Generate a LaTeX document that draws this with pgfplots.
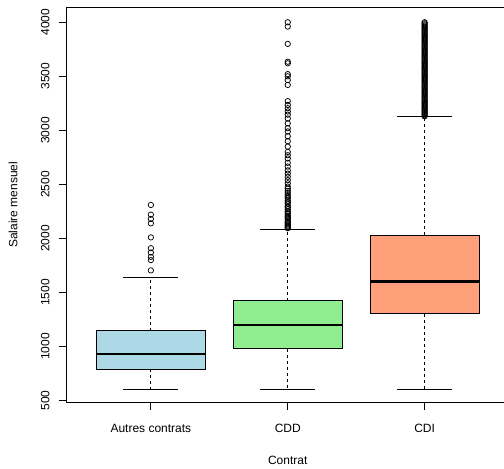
\documentclass[border=0pt]{standalone}
\usepackage{fontspec}
\setmainfont{Liberation Sans}
\usepackage{pgfplots}
\pgfplotsset{compat=1.18}
\usepgfplotslibrary{statistics}

\definecolor{boxblue}{HTML}{ADD8E6}
\definecolor{boxgreen}{HTML}{90EE90}
\definecolor{boxsalmon}{HTML}{FFA07A}

\newcommand{\lbl}{\fontsize{12bp}{14bp}\selectfont}

% whiskers: dashed stem, solid cap
\pgfplotsset{
  boxplot/draw/lower whisker/.code={%
    \draw[black, line width=0.75bp, dash pattern=on 3bp off 3bp]
      (boxplot box cs:\pgfplotsboxplotvalue{lower quartile},0.5)
      -- (boxplot box cs:\pgfplotsboxplotvalue{lower whisker},0.5);
    \draw[black, line width=0.75bp, solid]
      (boxplot whisker cs:\pgfplotsboxplotvalue{lower whisker},0)
      -- (boxplot whisker cs:\pgfplotsboxplotvalue{lower whisker},1);
  },
  boxplot/draw/upper whisker/.code={%
    \draw[black, line width=0.75bp, dash pattern=on 3bp off 3bp]
      (boxplot box cs:\pgfplotsboxplotvalue{upper quartile},0.5)
      -- (boxplot box cs:\pgfplotsboxplotvalue{upper whisker},0.5);
    \draw[black, line width=0.75bp, solid]
      (boxplot whisker cs:\pgfplotsboxplotvalue{upper whisker},0)
      -- (boxplot whisker cs:\pgfplotsboxplotvalue{upper whisker},1);
  },
  rbox/.style={
    draw=black, solid,
    boxplot/draw direction=y,
    boxplot/box extend=0.8,
    boxplot/whisker extend=0.4,
    boxplot/every box/.style={draw=black, fill=#1, line width=0.75bp},
    boxplot/every median/.style={draw=black, line width=2.25bp},
    mark=o, mark size=2.7bp,
    mark options={draw=black, line width=0.75bp, solid, fill=none},
  },
}

% outliers per contract type
\pgfplotstableread{
y
2310
2220
2180
2140
2010
1910
1870
1830
1800
1705
}\outautres

\pgfplotstableread{
y
4000
3960
3800
3635
3620
3520
3500
3465
3420
3270
3235
3205
3175
3145
3110
3065
3020
2990
2945
2900
2850
2800
2770
2740
2700
2665
2630
2600
2570
2540
2510
2480
2460
2440
2420
2400
2385
2370
2350
2335
2320
2300
2285
2270
2250
2240
2225
2210
2200
2190
2175
2160
2150
2140
2130
2120
2110
2100
2095
}\outcdd

\pgfplotstableread{
y
3130
3140
3150
3160
3170
3180
3190
3200
3210
3220
3230
3240
3250
3260
3270
3280
3290
3300
3310
3320
3330
3340
3350
3360
3370
3380
3390
3400
3410
3420
3430
3440
3450
3460
3470
3480
3490
3500
3510
3520
3530
3540
3550
3560
3570
3580
3590
3600
3610
3620
3630
3640
3650
3660
3670
3680
3690
3700
3710
3720
3730
3740
3750
3760
3770
3780
3790
3800
3810
3820
3830
3840
3850
3860
3870
3880
3890
3900
3910
3920
3930
3940
3950
3960
3970
3980
3990
4000
}\outcdi

\begin{document}
\begin{tikzpicture}
\path[use as bounding box] (0bp,0bp) rectangle (504bp,-469bp);
\clip (0bp,0bp) rectangle (504bp,-469bp);
\begin{axis}[
  at={(66bp,-7bp)}, anchor=north west,
  scale only axis, width=443.5bp, height=395.7bp,
  xmin=0.38, xmax=3.62, ymin=481, ymax=4141,
  xtick={1,2,3},
  xticklabels={Autres contrats, CDD, CDI},
  ytick={500,1000,...,4000},
  /pgf/number format/1000 sep={},
  /pgf/number format/assume math mode=true,
  tick pos=left, tick align=outside,
  major tick length=7.2bp,
  tick style={black, line width=0.75bp},
  axis line style={black, line width=0.75bp},
  tick label style={font=\lbl, inner sep=0pt},
  xticklabel style={anchor=base},
  yticklabel style={rotate=90, anchor=base},
  xticklabel shift=22.8bp,
  yticklabel shift=9.5bp,
  xlabel={Contrat},
  ylabel={Salaire mensuel},
  label style={font=\lbl, inner sep=0pt},
  xlabel style={at={([yshift=-61.3bp]axis description cs:0.5,0)}, anchor=base},
  ylabel style={at={([xshift=-48.7bp]axis description cs:0,0.5)}, anchor=base, rotate=0},
]
\addplot[rbox=boxblue, boxplot prepared={draw position=1,
  lower whisker=600, lower quartile=790, median=932,
  upper quartile=1147, upper whisker=1638}]
  table[y=y] {\outautres};
\addplot[rbox=boxgreen, boxplot prepared={draw position=2,
  lower whisker=600, lower quartile=981, median=1203,
  upper quartile=1425, upper whisker=2085}]
  table[y=y] {\outcdd};
\addplot[rbox=boxsalmon, boxplot prepared={draw position=3,
  lower whisker=600, lower quartile=1305, median=1601,
  upper quartile=2030, upper whisker=3127}]
  table[y=y] {\outcdi};
\end{axis}
\end{tikzpicture}
\end{document}
